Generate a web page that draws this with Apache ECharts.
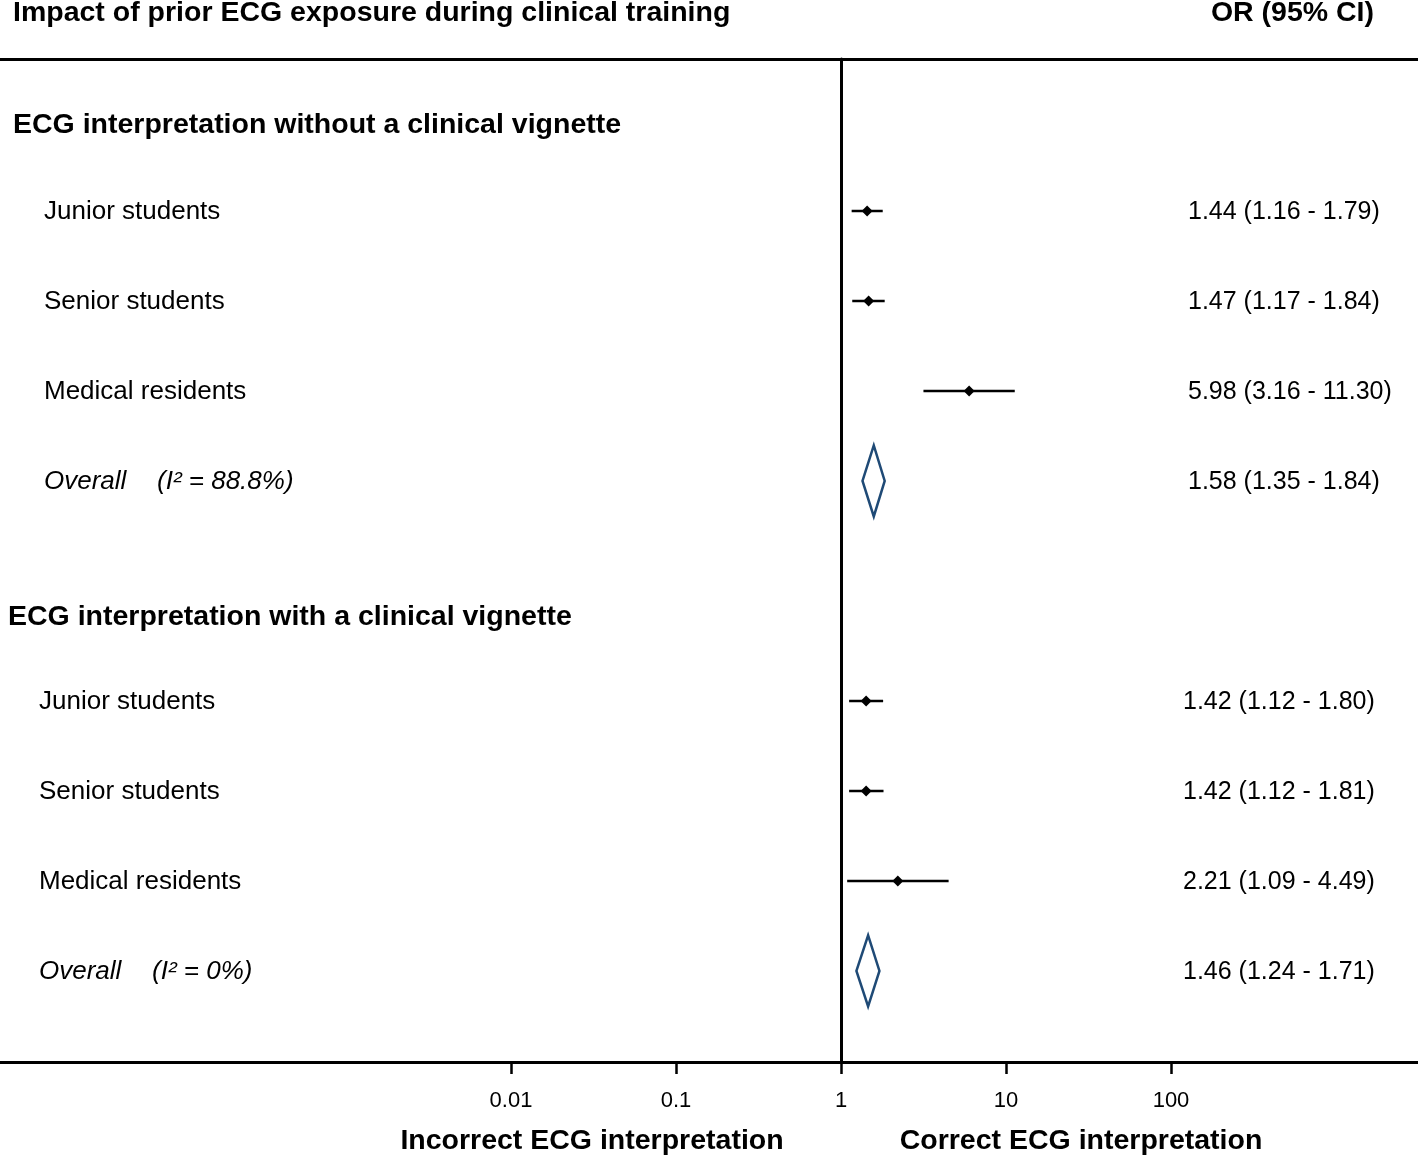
<!DOCTYPE html>
<html>
<head>
<meta charset="utf-8">
<script src="https://cdn.jsdelivr.net/npm/echarts@6/dist/echarts.min.js"></script>
<style>
html, body { margin: 0; padding: 0; background: #fff; }
#main { width: 1418px; height: 1155px; }
</style>
</head>
<body>
<div id="main"></div>
<script>
var groupTitles = ['ECG interpretation without a clinical vignette', 'ECG interpretation with a clinical vignette'];
var subgroups = ['Junior students', 'Senior students', 'Medical residents'];
var orNoVig = [1.44, 1.47, 5.98];
var loNoVig = [1.16, 1.17, 3.16];
var hiNoVig = [1.79, 1.84, 11.30];
var orVig = [1.42, 1.42, 2.21];
var loVig = [1.12, 1.12, 1.09];
var hiVig = [1.80, 1.81, 4.49];
var overallOr = [1.58, 1.46];
var overallLo = [1.35, 1.24];
var overallHi = [1.84, 1.71];
var overallI2 = ['88.8%', '0%'];
var tickValues = [0.01, 0.1, 1, 10, 100];
var tickLabels = ['0.01', '0.1', '1', '10', '100'];
// row positions on the (inverted) y axis
var headerRows = [0.03, 5.5];
var studyRows = [[1, 2, 3], [6.444, 7.444, 8.444]];
var overallRows = [4, 9.444];

var FONT = '"Liberation Sans", Arial, Helvetica, sans-serif';
var ORIGIN_PX = 841, PX_PER_DEC = 165;
function colX(px) { return (px - ORIGIN_PX) / PX_PER_DEC; }
function lg(v) { return Math.log10(v); }
function fmt(v) { return v.toFixed(2); }

var ors = [orNoVig, orVig], los = [loNoVig, loVig], his = [hiNoVig, hiVig];

var headerText = [], rowText = [], overallText = [], orText = [];
var ciData = [], pointData = [], diamondData = [];
for (var g = 0; g < 2; g++) {
    var shift = g * 5; // second block sits 5px further left
    headerText.push({ value: [colX(13 - shift), headerRows[g]], name: groupTitles[g] });
    for (var i = 0; i < subgroups.length; i++) {
        var y = studyRows[g][i];
        rowText.push({ value: [colX(44 - shift), y], name: subgroups[i] });
        orText.push({ value: [colX(1188 - shift), y], name: fmt(ors[g][i]) + ' (' + fmt(los[g][i]) + ' - ' + fmt(his[g][i]) + ')' });
        ciData.push([lg(los[g][i]), lg(his[g][i]), y]);
        pointData.push([lg(ors[g][i]), y]);
    }
    var oy = overallRows[g];
    overallText.push({ value: [colX(44 - shift), oy], name: 'Overall' });
    overallText.push({ value: [colX(157 - shift), oy], name: '(I² = ' + overallI2[g] + ')' });
    orText.push({ value: [colX(1188 - shift), oy], name: fmt(overallOr[g]) + ' (' + fmt(overallLo[g]) + ' - ' + fmt(overallHi[g]) + ')' });
    diamondData.push([lg(overallLo[g]), lg(overallOr[g]), lg(overallHi[g]), oy]);
}

function textSeries(data, size, weight, style) {
    return {
        type: 'scatter',
        data: data,
        symbolSize: 0,
        silent: true,
        z: 5,
        itemStyle: { opacity: 1 },
        label: {
            show: true,
            position: 'right',
            distance: 0,
            offset: [0, 1],
            formatter: function (p) { return p.name; },
            color: '#000',
            fontFamily: FONT,
            fontSize: size,
            fontWeight: weight,
            fontStyle: style
        },
        emphasis: { disabled: true }
    };
}

var chart = echarts.init(document.getElementById('main'));
var option = {
    backgroundColor: '#fff',
    animation: false,
    grid: { left: 0, right: 0, top: 59, bottom: 93 },
    xAxis: [{
        type: 'value',
        position: 'bottom',
        min: colX(0),
        max: colX(1418),
        axisLine: { show: true, onZero: false, lineStyle: { color: '#000', width: 3 } },
        axisTick: { show: true, customValues: tickValues.map(lg), length: 12, lineStyle: { color: '#000', width: 2.5 } },
        axisLabel: {
            show: true,
            customValues: tickValues.map(lg),
            formatter: function (v) { return tickLabels[tickValues.map(lg).indexOf(v)] || ''; },
            margin: 28,
            color: '#000',
            fontFamily: FONT,
            fontSize: 22
        },
        splitLine: { show: false }
    }, {
        type: 'value',
        position: 'top',
        min: colX(0),
        max: colX(1418),
        axisLine: { show: true, onZero: false, lineStyle: { color: '#000', width: 3 } },
        axisTick: { show: false },
        axisLabel: { show: false },
        splitLine: { show: false }
    }],
    yAxis: {
        type: 'value',
        inverse: true,
        min: -0.689,
        max: 10.456,
        axisLine: { show: true, onZero: true, onZeroAxisIndex: 0, lineStyle: { color: '#000', width: 3 } },
        axisTick: { show: false },
        axisLabel: { show: false },
        splitLine: { show: false }
    },
    graphic: [
        { type: 'text', x: 13, y: 13, style: { text: 'Impact of prior ECG exposure during clinical training', fill: '#000', font: 'bold 28.5px ' + FONT, align: 'left', verticalAlign: 'middle' } },
        { type: 'text', x: 1374, y: 13, style: { text: 'OR (95% CI)', fill: '#000', font: 'bold 28.5px ' + FONT, align: 'right', verticalAlign: 'middle' } },
        { type: 'text', x: 592, y: 1141, style: { text: 'Incorrect ECG interpretation', fill: '#000', font: 'bold 28.5px ' + FONT, align: 'center', verticalAlign: 'middle' } },
        { type: 'text', x: 1081, y: 1141, style: { text: 'Correct ECG interpretation', fill: '#000', font: 'bold 28.5px ' + FONT, align: 'center', verticalAlign: 'middle' } }
    ],
    series: [
        {
            type: 'custom',
            data: ciData,
            encode: { x: [0, 1], y: 2 },
            silent: true,
            renderItem: function (params, api) {
                var a = api.coord([api.value(0), api.value(2)]);
                var b = api.coord([api.value(1), api.value(2)]);
                return { type: 'line', shape: { x1: a[0], y1: a[1], x2: b[0], y2: b[1] }, style: { stroke: '#000', lineWidth: 2.5 } };
            }
        },
        {
            type: 'scatter',
            data: pointData,
            symbol: 'diamond',
            symbolSize: [11, 11],
            silent: true,
            itemStyle: { color: '#000', opacity: 1 },
            z: 3
        },
        {
            type: 'custom',
            data: diamondData,
            encode: { x: [0, 1, 2], y: 3 },
            silent: true,
            renderItem: function (params, api) {
                var y = api.value(3);
                var l = api.coord([api.value(0), y]);
                var c = api.coord([api.value(1), y]);
                var r = api.coord([api.value(2), y]);
                var h = 35.5;
                return {
                    type: 'polygon',
                    shape: { points: [[l[0], l[1]], [c[0], c[1] - h], [r[0], r[1]], [c[0], c[1] + h]] },
                    style: { fill: 'none', stroke: '#1f4a76', lineWidth: 2.5 }
                };
            }
        },
        textSeries(headerText, 28.5, 'bold', 'normal'),
        textSeries(rowText, 26, 'normal', 'normal'),
        textSeries(overallText, 26, 'normal', 'italic'),
        textSeries(orText, 25, 'normal', 'normal')
    ]
};
chart.setOption(option);
</script>
</body>
</html>
